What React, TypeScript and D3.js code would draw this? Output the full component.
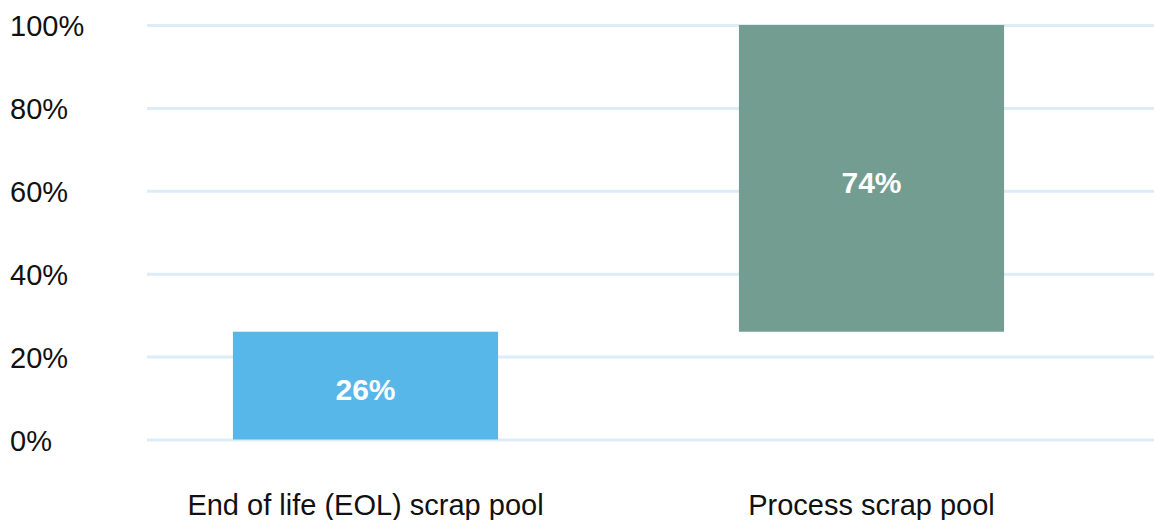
import React from "react";
import * as d3 from "d3";

const categories = ["End of life (EOL) scrap pool", "Process scrap pool"];
const shares = [0.26, 0.74];
const barColors = ["#57b7e8", "#739d90"];
const yTicks = [0, 0.2, 0.4, 0.6, 0.8, 1.0];

const W = 1154;
const H = 520;
const FONT = "'Liberation Sans', Arial, Helvetica, sans-serif";

export default function App() {
  // cumulative starts for the stacked waterfall
  const starts = shares.map((_, i) => d3.sum(shares.slice(0, i)));

  const x = d3
    .scaleBand<string>()
    .domain(categories)
    .range([112.5, 1124.5])
    .paddingInner(0.476)
    .paddingOuter(0.238);

  const y = d3.scaleLinear().domain([0, 1]).range([439.5, 25]);
  const fmt = d3.format(".0%");

  return (
    <svg
      width={W}
      height={H}
      style={{ position: "absolute", left: 0, top: 0, background: "#fff" }}
      fontFamily={FONT}
    >
      {yTicks.map((t) => (
        <g key={t}>
          <line x1={147} x2={W} y1={y(t) + 0.5} y2={y(t) + 0.5} stroke="#dcedf8" strokeWidth={3} />
          <text x={10} y={y(t) + 1} dominantBaseline="central" fontSize={29} fill="#111">
            {fmt(t)}
          </text>
        </g>
      ))}
      {categories.map((c, i) => {
        const x0 = x(c)!;
        const yTop = y(starts[i] + shares[i]);
        const yBot = y(starts[i]);
        return (
          <g key={c}>
            <rect x={x0} y={yTop} width={x.bandwidth()} height={yBot - yTop} fill={barColors[i]} />
            <text
              x={x0 + x.bandwidth() / 2}
              y={(yTop + yBot) / 2 + 4}
              textAnchor="middle"
              dominantBaseline="central"
              fontSize={30}
              fontWeight="bold"
              fill="#fff"
            >
              {fmt(shares[i])}
            </text>
            <text
              x={x0 + x.bandwidth() / 2}
              y={505}
              textAnchor="middle"
              dominantBaseline="central"
              fontSize={29}
              fill="#111"
            >
              {c}
            </text>
          </g>
        );
      })}
    </svg>
  );
}
